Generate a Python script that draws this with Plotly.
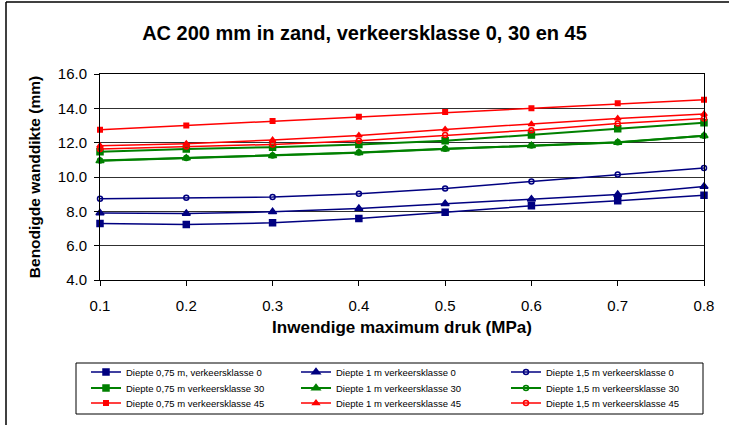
import plotly.graph_objects as go

druk = [0.1, 0.2, 0.3, 0.4, 0.5, 0.6, 0.7, 0.8]

d075_k0 = [7.29, 7.23, 7.33, 7.58, 7.95, 8.32, 8.61, 8.94]
d1_k0 = [7.91, 7.87, 7.97, 8.16, 8.44, 8.71, 8.98, 9.45]
d15_k0 = [8.73, 8.79, 8.83, 9.02, 9.33, 9.74, 10.15, 10.52]

d075_k30 = [11.47, 11.63, 11.74, 11.90, 12.11, 12.44, 12.81, 13.16]
d1_k30 = [10.94, 11.10, 11.24, 11.41, 11.63, 11.82, 12.01, 12.40]
d15_k30 = [10.96, 11.11, 11.25, 11.42, 11.64, 11.83, 12.02, 12.41]

d075_k45 = [12.75, 13.00, 13.26, 13.51, 13.78, 14.00, 14.29, 14.50]
d1_k45 = [11.82, 11.94, 12.15, 12.42, 12.77, 13.08, 13.41, 13.67]
d15_k45 = [11.63, 11.78, 11.90, 12.11, 12.44, 12.73, 13.12, 13.41]

names = [
    ["Diepte 0,75 m, verkeersklasse 0", "Diepte 1 m verkeersklasse 0", "Diepte 1,5 m verkeersklasse 0"],
    ["Diepte 0,75 m verkeersklasse 30", "Diepte 1 m verkeersklasse 30", "Diepte 1,5 m verkeersklasse 30"],
    ["Diepte 0,75 m verkeersklasse 45", "Diepte 1 m verkeersklasse 45", "Diepte 1,5 m verkeersklasse 45"],
]
data = [
    [d075_k0, d1_k0, d15_k0],
    [d075_k30, d1_k30, d15_k30],
    [d075_k45, d1_k45, d15_k45],
]
colors = ["#000080", "#008000", "#FF0000"]
line_w = [1.5, 2.0, 1.5]
symbols = ["square", "triangle-up", "circle-open"]
sizes = [
    [6, 7, 5],
    [6, 7, 5],
    [4.5, 5.5, 5],
]
legends = ["legend", "legend2", "legend3"]

fig = go.Figure()
for r in range(3):
    for c in range(3):
        fig.add_trace(go.Scatter(
            x=druk, y=data[r][c], name=names[r][c], mode="lines+markers",
            line=dict(color=colors[r], width=line_w[r]),
            marker=dict(symbol=symbols[c], size=sizes[r][c], color=colors[r],
                        line=dict(color=colors[r], width=1.5)),
            cliponaxis=False, legend=legends[r],
        ))

W, H = 729, 425
L, R, T, B = 100, 25, 74, 145
pw, ph = W - L - R, H - T - B

def px_x(p):
    return (p - L) / pw

def px_y(p):
    return (H - B - p) / ph

font = "Liberation Sans, Arial, sans-serif"
leg_common = dict(orientation="h", xanchor="left", yanchor="middle",
                  font=dict(family=font, size=9.5, color="#000"),
                  bgcolor="rgba(0,0,0,0)", borderwidth=0,
                  entrywidth=165, entrywidthmode="pixels", itemclick=False)
row_y = [372, 388, 403]

fig.update_layout(
    width=W, height=H,
    margin=dict(l=L, r=R, t=T, b=B, autoexpand=False),
    paper_bgcolor="white", plot_bgcolor="white",
    font=dict(family=font, color="#000"),
    title=dict(text="<b>AC 200 mm in zand, verkeersklasse 0, 30 en 45</b>",
               x=0.5, xanchor="center", y=1 - 33 / H, yanchor="middle",
               font=dict(size=20, family=font, color="#000")),
    xaxis=dict(range=[0.1, 0.8], dtick=0.1, tick0=0.1, tickformat=".1f",
               showgrid=False, showline=True, mirror=True, linecolor="#000", linewidth=1,
               ticks="outside", ticklen=5, tickcolor="#000", ticklabelstandoff=7,
               tickfont=dict(size=15, family=font), automargin=False,
               title=dict(text="<b>Inwendige maximum druk (MPa)</b>", font=dict(size=17, family=font), standoff=8),
               zeroline=False),
    yaxis=dict(range=[4, 16], dtick=2, tickformat=".1f",
               showgrid=True, gridcolor="#303030", gridwidth=1,
               showline=True, mirror=True, linecolor="#000", linewidth=1,
               ticks="outside", ticklen=5, tickcolor="#000", ticklabelstandoff=4,
               tickfont=dict(size=15, family=font), automargin=False,
               title=dict(text="<b>Benodigde wanddikte (mm)</b>", font=dict(size=15.5, family=font), standoff=13),
               zeroline=False),
    legend=dict(x=px_x(86), y=px_y(row_y[0]), **leg_common),
    legend2=dict(x=px_x(86), y=px_y(row_y[1]), **leg_common),
    legend3=dict(x=px_x(86), y=px_y(row_y[2]), **leg_common),
    shapes=[
        dict(type="rect", xref="paper", yref="paper",
             x0=px_x(76), x1=px_x(703), y0=px_y(414), y1=px_y(363),
             line=dict(color="#000", width=1), fillcolor="rgba(0,0,0,0)", layer="below"),
        dict(type="line", xref="paper", yref="paper",
             x0=px_x(6), x1=px_x(6), y0=px_y(2), y1=px_y(H + 5),
             line=dict(color="#000", width=1.5)),
        dict(type="line", xref="paper", yref="paper",
             x0=px_x(6), x1=px_x(W + 5), y0=px_y(2), y1=px_y(2),
             line=dict(color="#000", width=1.5)),
    ],
    showlegend=True,
)

fig.write_html("out.html")
